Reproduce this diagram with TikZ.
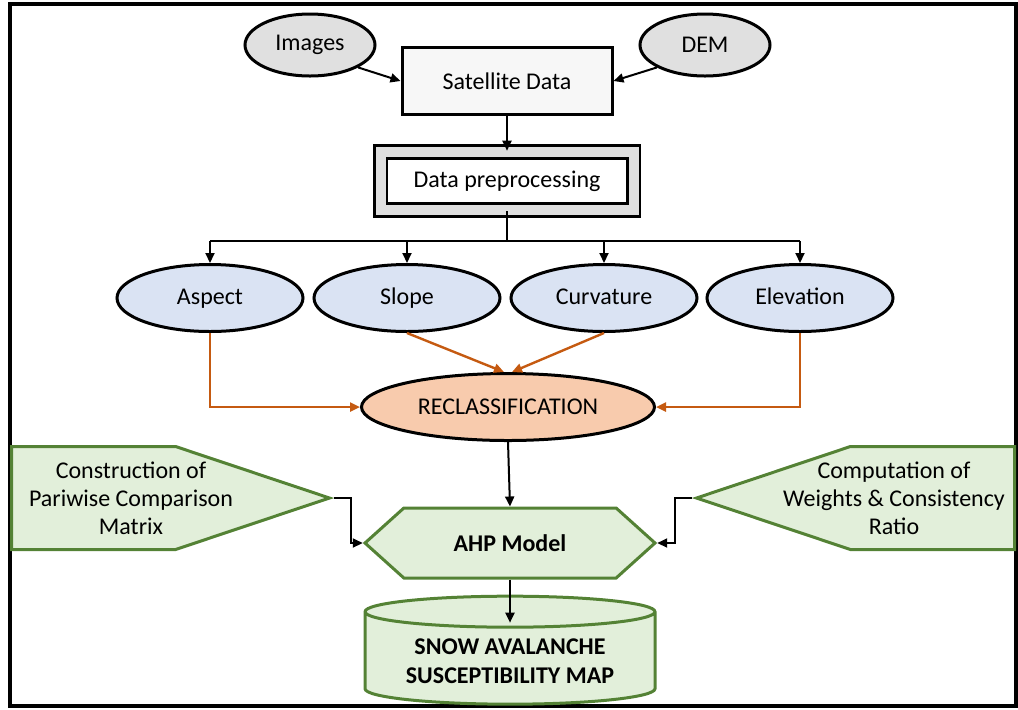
\documentclass[tikz,border=0pt]{standalone}
\usepackage{fontspec}
\setmainfont{Carlito}
\usetikzlibrary{shapes,arrows.meta,positioning,calc}

\definecolor{sourcegray}{HTML}{E0E0E0}
\definecolor{factorblue}{HTML}{DAE3F3}
\definecolor{reclassfill}{HTML}{F8CBAD}
\definecolor{reclassline}{HTML}{C55A11}
\definecolor{ahpfill}{HTML}{E2EFDA}
\definecolor{ahpline}{HTML}{548235}

\begin{document}
\begin{tikzpicture}
    [x=0.5pt,y=-0.5pt,
    font=\fontsize{12}{14}\selectfont,
    source/.style={
        draw,
        ellipse,
        line width=1.5pt,
        fill=sourcegray,
        minimum width=65pt,
        minimum height=31pt
    },
    factor/.style={
        draw,
        ellipse,
        line width=1.5pt,
        fill=factorblue,
        minimum width=93pt,
        minimum height=33.5pt,
        text height=8.5pt,
        text depth=2.5pt
    },
    box/.style={
        draw,
        line width=1.5pt,
        fill=#1,
        align=center
    },
    box/.default={white},
    green shape/.style={
        draw=ahpline,
        line width=1.5pt,
        fill=ahpfill,
        align=center
    },
    side input/.style={
        green shape,
        signal,
        signal to=#1,
        signal pointer angle=37,
        minimum width=159pt,
        minimum height=51.5pt,
        inner sep=0pt
    },
    arrow/.style={-{Triangle[length=5pt,width=4.5pt]},line width=1pt},
    factor arrow/.style={arrow,draw=reclassline,line width=1.2pt,color=reclassline}]

    %%% frame
    \useasboundingbox (0,0) rectangle (1018,709);
    \draw[line width=2pt] (10,4) rectangle (1016,706);

    %%% content
    \node (images) [source] at (310,45) {Images};
    \node (dem) [source] at (705,45) {DEM};
    \node (satellite) [box={black!3}, minimum width=105pt, minimum height=33.5pt] at (507,81) {Satellite Data};
    \node (prep) [box, minimum width=126.5pt, minimum height=29pt,
        double=gray!25, double distance=5pt, line width=1.3pt] at (507,181) {Data preprocessing};

    \node (aspect) [factor] at (210,298) {Aspect};
    \node (slope) [factor] at (407,298) {Slope};
    \node (curvature) [factor] at (604,298) {Curvature};
    \node (elevation) [factor] at (800,298) {Elevation};

    \node (reclass) [draw, ellipse, line width=1.5pt, fill=reclassfill,
        minimum width=146.5pt, minimum height=33.5pt] at (508,407) {RECLASSIFICATION};

    \node (ahp) [green shape, signal, signal to=west and east, signal pointer angle=84,
        minimum width=145pt, minimum height=35pt, font=\fontsize{12}{14}\selectfont\bfseries] at (510,543) {AHP Model};

    \node (pairwise) [side input=east, anchor=west] at (10,498) {};
    \node (pairwise text) [align=center] at (131,498)
        {Construction of\\Pariwise Comparison\\Matrix};
    \node (weights) [side input=west, anchor=east] at (1016,498) {};
    \node (weights text) [align=center] at (894,498)
        {Computation of\\Weights \& Consistency\\Ratio};

    \node (map) [green shape, cylinder, shape border rotate=90, aspect=0.14,
        minimum width=145pt, minimum height=54pt,
        font=\fontsize{12}{14.5}\selectfont\bfseries] at (510,661)
        {SNOW AVALANCHE\\SUSCEPTIBILITY MAP};

    %% lines
    \draw[arrow] (images.-25) -- (satellite.west);
    \draw[arrow] (dem.-155) -- (satellite.east);
    \draw[arrow] (satellite.south) -- (prep.north);
    \draw[line width=1pt] (prep.south) -- ++(0,30) coordinate (split);
    \draw[line width=1pt] (aspect.north |- split) -- (elevation.north |- split);
    \foreach \f in {aspect,slope,curvature,elevation}
        \draw[arrow] (\f.north |- split) -- (\f.north);

    \draw[factor arrow] (aspect.south) |- (reclass.west);
    \draw[factor arrow] (elevation.south) |- (reclass.east);
    \draw[factor arrow] (slope.south) -- ($(reclass.north)+(-4,0)$);
    \draw[factor arrow] (curvature.south) -- ($(reclass.north)+(4,0)$);

    \draw[arrow] (reclass.south) -- (ahp.north);
    \draw[arrow] (pairwise.east) -- ++(17,0) |- (ahp.west);
    \draw[arrow] (weights.west) -- ++(-17,0) |- (ahp.east);
    \draw[arrow] (ahp.south) -- ($(map.north)+(0,28)$);
\end{tikzpicture}
\end{document}
